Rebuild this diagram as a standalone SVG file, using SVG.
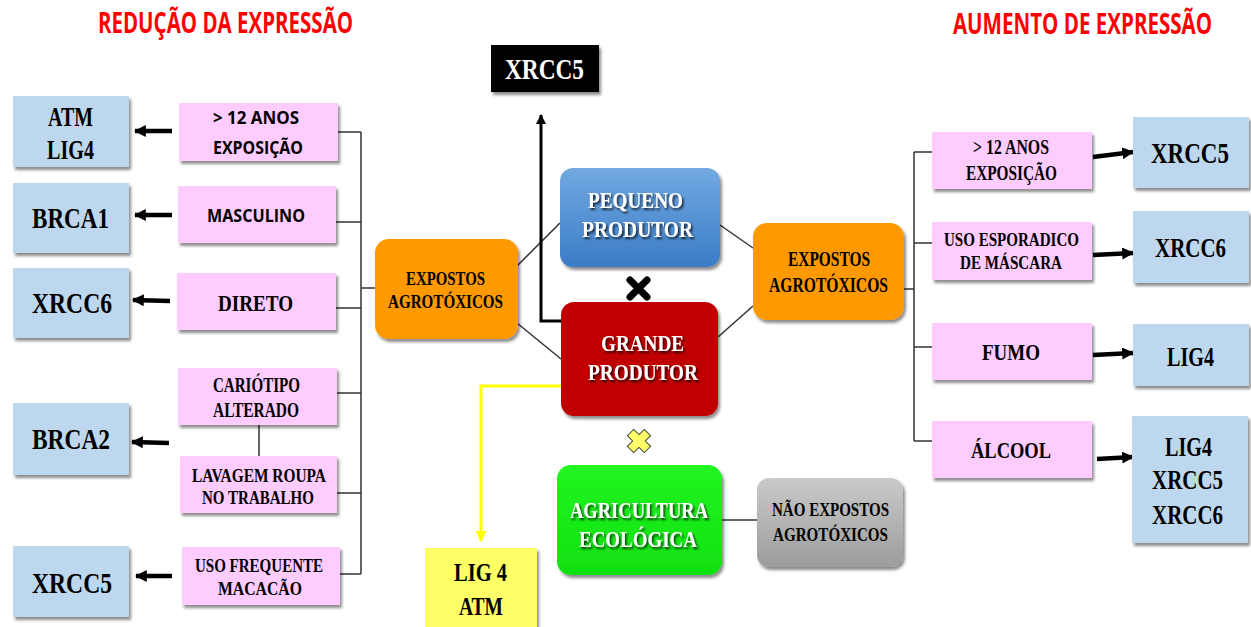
<svg xmlns="http://www.w3.org/2000/svg" width="1251" height="627" viewBox="0 0 1251 627">
<defs>
<style>
.serif{font-family:"Liberation Serif","Times New Roman",serif;font-weight:bold;fill:#000}
.sans{font-family:"Open Sans","Liberation Sans",sans-serif;font-weight:bold;fill:#000}
.title{font-family:"Open Sans","Liberation Sans",sans-serif;font-weight:bold;fill:#FF0000;font-size:28px}
.wt{fill:#fff}
.blue{fill:#BDD7EE}
.pink{fill:#FFCCFF}
.orange{fill:#FF9900}
.conn{stroke:#333;stroke-width:1.5;fill:none}
.arr{stroke:#000;stroke-width:4.5;fill:none}
</style>
<filter id="sh" x="-10%" y="-10%" width="125%" height="130%">
<feDropShadow dx="2" dy="3" stdDeviation="1.5" flood-color="#000" flood-opacity="0.45"/>
</filter>
<filter id="tsh" x="-10%" y="-20%" width="125%" height="150%">
<feDropShadow dx="1.5" dy="2" stdDeviation="1.2" flood-color="#000" flood-opacity="0.8"/>
</filter>
<linearGradient id="gBlue" x1="0" y1="0" x2="0" y2="1"><stop offset="0" stop-color="#72A9E2"/><stop offset="1" stop-color="#3A7CC6"/></linearGradient>
<linearGradient id="gGray" x1="0" y1="0" x2="0" y2="1"><stop offset="0" stop-color="#CACACA"/><stop offset="1" stop-color="#9C9C9C"/></linearGradient>
<linearGradient id="gGreen" x1="0" y1="0" x2="0" y2="1"><stop offset="0" stop-color="#22F522"/><stop offset="1" stop-color="#10E010"/></linearGradient>
<marker id="ah" viewBox="0 0 10 10" refX="9" refY="5" markerWidth="12" markerHeight="12" markerUnits="userSpaceOnUse" orient="auto"><path d="M0,0 L10,5 L0,10 z" fill="#000"/></marker>
<marker id="ahs" viewBox="0 0 10 10" refX="9" refY="5" markerWidth="10" markerHeight="10" markerUnits="userSpaceOnUse" orient="auto"><path d="M0,0 L10,5 L0,10 z" fill="#000"/></marker>
<marker id="ahy" viewBox="0 0 10 10" refX="9" refY="5" markerWidth="11" markerHeight="11" markerUnits="userSpaceOnUse" orient="auto"><path d="M0,0 L10,5 L0,10 z" fill="#FFFF00"/></marker>
</defs>
<rect width="1251" height="627" fill="#fff"/>

<g id="titles">
<text class="title" transform="translate(225.5,33) scale(0.8,1)" x="0" y="0" text-anchor="middle" textLength="319" lengthAdjust="spacingAndGlyphs">REDUÇÃO DA EXPRESSÃO</text>
<text class="title" transform="translate(1082.5,34) scale(0.8,1)" x="0" y="0" text-anchor="middle" textLength="324" lengthAdjust="spacingAndGlyphs">AUMENTO DE EXPRESSÃO</text>
</g>

<g id="connectors">
<path class="conn" d="M338,132 H361 M336,222 H361 M336,308 H361 M337,393 H361 M337,493 H361 M340,574 H361 M361,132 V574 M361,288 H376"/>
<path class="conn" d="M259,425 V456"/>
<path class="conn" d="M517,266 L560,223 M517,323 L561,359"/>
<path class="conn" d="M720,225 L753,248 M718,337 L753,306"/>
<path class="conn" d="M904,289 H914 M914,152 V441 M914,152 H932 M914,243 H932 M914,347 H932 M914,441 H932"/>
<path class="conn" d="M721,520 H757"/>
<path class="arr" marker-end="url(#ah)" d="M172,131 L135,131"/>
<path class="arr" marker-end="url(#ah)" d="M172,215 L135,215"/>
<path class="arr" marker-end="url(#ah)" d="M170,301 L133,300"/>
<path class="arr" marker-end="url(#ah)" d="M169,443 L132,442"/>
<path class="arr" marker-end="url(#ah)" d="M172,576 L136,576"/>
<path class="arr" marker-end="url(#ah)" d="M1093,157 L1133,152"/>
<path class="arr" marker-end="url(#ah)" d="M1093,255 L1133,253"/>
<path class="arr" marker-end="url(#ah)" d="M1093,355 L1133,353"/>
<path class="arr" marker-end="url(#ah)" d="M1097,459 L1133,457"/>
<path d="M562,321 H541 V115" stroke="#000" stroke-width="3" fill="none" marker-end="url(#ahs)"/>
<path d="M561,386 H481 V541" stroke="#FFFF00" stroke-width="3" fill="none" marker-end="url(#ahy)"/>
</g>

<g id="n-atm-lig4"><rect class="blue" x="13" y="96" width="116" height="71" filter="url(#sh)"/>
<text class="serif" font-size="27" x="70.5" y="126" text-anchor="middle" textLength="45" lengthAdjust="spacingAndGlyphs">ATM</text>
<text class="serif" font-size="27" x="70.5" y="159" text-anchor="middle" textLength="47" lengthAdjust="spacingAndGlyphs">LIG4</text></g>
<g id="n-brca1"><rect class="blue" x="13" y="183" width="116" height="70" filter="url(#sh)"/>
<text class="serif" font-size="30" x="70.5" y="228" text-anchor="middle" textLength="77" lengthAdjust="spacingAndGlyphs">BRCA1</text></g>
<g id="n-xrcc6-l"><rect class="blue" x="13" y="268" width="116" height="70" filter="url(#sh)"/>
<text class="serif" font-size="30" x="72" y="313" text-anchor="middle" textLength="80" lengthAdjust="spacingAndGlyphs">XRCC6</text></g>
<g id="n-brca2"><rect class="blue" x="13" y="403" width="116" height="72" filter="url(#sh)"/>
<text class="serif" font-size="30" x="71" y="449" text-anchor="middle" textLength="78" lengthAdjust="spacingAndGlyphs">BRCA2</text></g>
<g id="n-xrcc5-l"><rect class="blue" x="13" y="546" width="116" height="71" filter="url(#sh)"/>
<text class="serif" font-size="30" x="72" y="593" text-anchor="middle" textLength="80" lengthAdjust="spacingAndGlyphs">XRCC5</text></g>

<g id="p-12anos-l"><rect class="pink" x="179" y="103" width="159" height="58" filter="url(#sh)"/>
<text class="sans" font-size="18" x="256" y="124" text-anchor="middle" textLength="86" lengthAdjust="spacingAndGlyphs">&gt; 12 ANOS</text>
<text class="sans" font-size="18" x="258" y="154" text-anchor="middle" textLength="90" lengthAdjust="spacingAndGlyphs">EXPOSIÇÃO</text></g>
<g id="p-masculino"><rect class="pink" x="178" y="186" width="158" height="57" filter="url(#sh)"/>
<text class="sans" font-size="18" x="256" y="222" text-anchor="middle" textLength="98" lengthAdjust="spacingAndGlyphs">MASCULINO</text></g>
<g id="p-direto"><rect class="pink" x="177" y="273" width="159" height="57" filter="url(#sh)"/>
<text class="serif" font-size="24" x="255.5" y="311" text-anchor="middle" textLength="75" lengthAdjust="spacingAndGlyphs">DIRETO</text></g>
<g id="p-cariotipo"><rect class="pink" x="178" y="368" width="159" height="57" filter="url(#sh)"/>
<text class="serif" font-size="20" x="256.5" y="392" text-anchor="middle" textLength="87" lengthAdjust="spacingAndGlyphs">CARIÓTIPO</text>
<text class="serif" font-size="20" x="256" y="417" text-anchor="middle" textLength="86" lengthAdjust="spacingAndGlyphs">ALTERADO</text></g>
<g id="p-lavagem"><rect class="pink" x="180" y="456" width="157" height="57" filter="url(#sh)"/>
<text class="serif" font-size="18" x="259" y="482" text-anchor="middle" textLength="134" lengthAdjust="spacingAndGlyphs">LAVAGEM ROUPA</text>
<text class="serif" font-size="18" x="258" y="504" text-anchor="middle" textLength="112" lengthAdjust="spacingAndGlyphs">NO TRABALHO</text></g>
<g id="p-macacao"><rect class="pink" x="182" y="547" width="158" height="58" filter="url(#sh)"/>
<text class="serif" font-size="18" x="259" y="572" text-anchor="middle" textLength="128" lengthAdjust="spacingAndGlyphs">USO FREQUENTE</text>
<text class="serif" font-size="18" x="260" y="595" text-anchor="middle" textLength="84" lengthAdjust="spacingAndGlyphs">MACACÃO</text></g>

<g id="o-expostos-l"><rect class="orange" x="375" y="239" width="143" height="100" rx="14" filter="url(#sh)"/>
<text class="serif" font-size="18" x="445.5" y="285" text-anchor="middle" textLength="79" lengthAdjust="spacingAndGlyphs">EXPOSTOS</text>
<text class="serif" font-size="18" x="445.5" y="308" text-anchor="middle" textLength="115" lengthAdjust="spacingAndGlyphs">AGROTÓXICOS</text></g>

<g id="b-xrcc5-top"><rect x="491" y="45" width="108" height="47" fill="#000" filter="url(#sh)"/>
<text class="serif wt" font-size="30" x="544.5" y="79" text-anchor="middle" textLength="79" lengthAdjust="spacingAndGlyphs">XRCC5</text></g>

<g id="pequeno"><rect x="560" y="168" width="160" height="99" rx="13" fill="url(#gBlue)" filter="url(#sh)"/>
<g filter="url(#tsh)">
<text class="serif wt" font-size="23" x="635.5" y="208" text-anchor="middle" textLength="95" lengthAdjust="spacingAndGlyphs">PEQUENO</text>
<text class="serif wt" font-size="23" x="637.5" y="237" text-anchor="middle" textLength="111" lengthAdjust="spacingAndGlyphs">PRODUTOR</text></g></g>

<g id="x-black"><path d="M630,280 L647,297 M647,280 L630,297" stroke="#000" stroke-width="7" stroke-linecap="round"/></g>

<g id="grande"><rect x="561" y="302" width="157" height="114" rx="13" fill="#C00000" filter="url(#sh)"/>
<g filter="url(#tsh)">
<text class="serif wt" font-size="24" x="642.5" y="351" text-anchor="middle" textLength="83" lengthAdjust="spacingAndGlyphs">GRANDE</text>
<text class="serif wt" font-size="24" x="643" y="380" text-anchor="middle" textLength="110" lengthAdjust="spacingAndGlyphs">PRODUTOR</text></g></g>

<g id="x-yellow"><polygon transform="translate(639,441) rotate(45)" points="-4.5,-12 4.5,-12 4.5,-4.5 12,-4.5 12,4.5 4.5,4.5 4.5,12 -4.5,12 -4.5,4.5 -12,4.5 -12,-4.5 -4.5,-4.5" fill="#FFFF66" stroke="#444" stroke-width="1"/></g>

<g id="lig4-atm"><rect x="425" y="548" width="112" height="85" fill="#FFFF66" filter="url(#sh)"/>
<text class="serif" font-size="26" x="480.5" y="581" text-anchor="middle" textLength="53" lengthAdjust="spacingAndGlyphs">LIG 4</text>
<text class="serif" font-size="26" x="481" y="615" text-anchor="middle" textLength="44" lengthAdjust="spacingAndGlyphs">ATM</text></g>

<g id="agricultura"><rect x="557" y="465" width="165" height="110" rx="14" fill="url(#gGreen)" filter="url(#sh)"/>
<g filter="url(#tsh)">
<text class="serif wt" font-size="23" x="639" y="518" text-anchor="middle" textLength="138" lengthAdjust="spacingAndGlyphs">AGRICULTURA</text>
<text class="serif wt" font-size="23" x="638" y="547" text-anchor="middle" textLength="118" lengthAdjust="spacingAndGlyphs">ECOLÓGICA</text></g></g>

<g id="nao-expostos"><rect x="757" y="478" width="146" height="89" rx="12" fill="url(#gGray)" filter="url(#sh)"/>
<text class="serif" font-size="18" x="830.5" y="516" text-anchor="middle" textLength="117" lengthAdjust="spacingAndGlyphs">NÃO EXPOSTOS</text>
<text class="serif" font-size="18" x="830.5" y="541" text-anchor="middle" textLength="115" lengthAdjust="spacingAndGlyphs">AGROTÓXICOS</text></g>

<g id="o-expostos-r"><rect class="orange" x="753" y="223" width="151" height="97" rx="14" filter="url(#sh)"/>
<text class="serif" font-size="20" x="829" y="266" text-anchor="middle" textLength="82" lengthAdjust="spacingAndGlyphs">EXPOSTOS</text>
<text class="serif" font-size="20" x="828.5" y="292" text-anchor="middle" textLength="119" lengthAdjust="spacingAndGlyphs">AGROTÓXICOS</text></g>

<g id="p-12anos-r"><rect class="pink" x="932" y="132" width="160" height="57" filter="url(#sh)"/>
<text class="serif" font-size="20" x="1011" y="154" text-anchor="middle" textLength="76" lengthAdjust="spacingAndGlyphs">&gt; 12 ANOS</text>
<text class="serif" font-size="20" x="1011.5" y="180" text-anchor="middle" textLength="91" lengthAdjust="spacingAndGlyphs">EXPOSIÇÃO</text></g>
<g id="p-mascara"><rect class="pink" x="932" y="222" width="160" height="58" filter="url(#sh)"/>
<text class="serif" font-size="19" x="1011.5" y="246" text-anchor="middle" textLength="135" lengthAdjust="spacingAndGlyphs">USO ESPORADICO</text>
<text class="serif" font-size="19" x="1011" y="269" text-anchor="middle" textLength="102" lengthAdjust="spacingAndGlyphs">DE MÁSCARA</text></g>
<g id="p-fumo"><rect class="pink" x="932" y="323" width="160" height="57" filter="url(#sh)"/>
<text class="serif" font-size="24" x="1011" y="360" text-anchor="middle" textLength="58" lengthAdjust="spacingAndGlyphs">FUMO</text></g>
<g id="p-alcool"><rect class="pink" x="932" y="421" width="160" height="57" filter="url(#sh)"/>
<text class="serif" font-size="23" x="1011" y="458" text-anchor="middle" textLength="80" lengthAdjust="spacingAndGlyphs">ÁLCOOL</text></g>

<g id="n-xrcc5-r"><rect class="blue" x="1133" y="117" width="116" height="71" filter="url(#sh)"/>
<text class="serif" font-size="30" x="1190" y="163" text-anchor="middle" textLength="78" lengthAdjust="spacingAndGlyphs">XRCC5</text></g>
<g id="n-xrcc6-r"><rect class="blue" x="1133" y="211" width="116" height="72" filter="url(#sh)"/>
<text class="serif" font-size="27" x="1190.5" y="257" text-anchor="middle" textLength="71" lengthAdjust="spacingAndGlyphs">XRCC6</text></g>
<g id="n-lig4-r"><rect class="blue" x="1133" y="324" width="116" height="62" filter="url(#sh)"/>
<text class="serif" font-size="27" x="1190.5" y="366" text-anchor="middle" textLength="47" lengthAdjust="spacingAndGlyphs">LIG4</text></g>
<g id="n-multi-r"><rect class="blue" x="1132" y="416" width="116" height="127" filter="url(#sh)"/>
<text class="serif" font-size="27" x="1188.5" y="456" text-anchor="middle" textLength="47" lengthAdjust="spacingAndGlyphs">LIG4</text>
<text class="serif" font-size="27" x="1187.5" y="489" text-anchor="middle" textLength="71" lengthAdjust="spacingAndGlyphs">XRCC5</text>
<text class="serif" font-size="27" x="1187.5" y="524" text-anchor="middle" textLength="71" lengthAdjust="spacingAndGlyphs">XRCC6</text></g>
</svg>
